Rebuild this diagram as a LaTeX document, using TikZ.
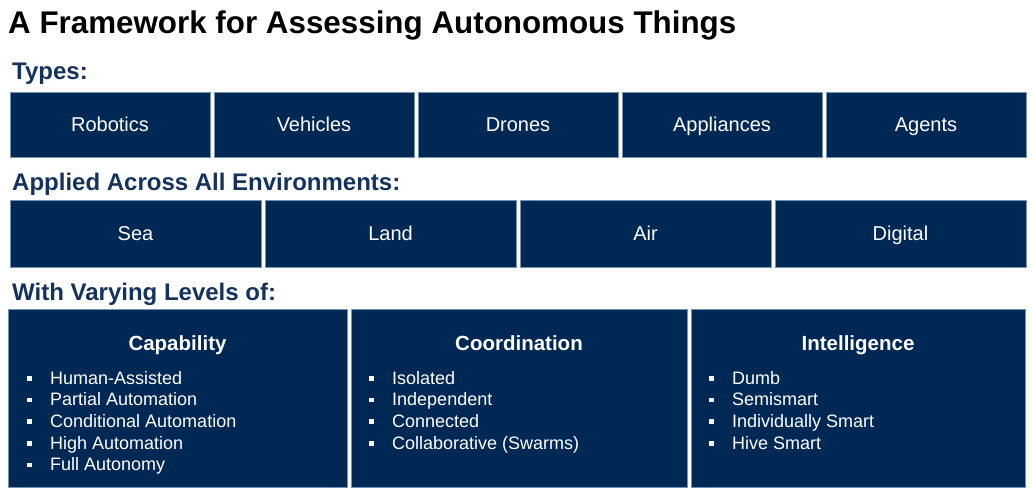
\documentclass[tikz,border=0pt]{standalone}
\usepackage{fontspec}
\setmainfont{Liberation Sans}
\definecolor{navy}{RGB}{0,40,85}
\definecolor{headblue}{RGB}{20,50,92}
\definecolor{edgeblue}{RGB}{120,145,175}
\newcommand{\sqbul}{\rule[3.5pt]{4.5pt}{4.5pt}}
\tikzset{
  box/.style={fill=navy, draw=edgeblue, line width=0.5pt, inner sep=0pt, text=white,
    font=\fontsize{20}{24}\selectfont, text height=14.3pt, text depth=0pt},
  bigbox/.style={fill=navy, draw=edgeblue, line width=0.5pt, inner sep=0pt},
  heading/.style={anchor=base west, inner sep=0pt, text=headblue, font=\fontsize{24}{28}\selectfont\bfseries},
  colhead/.style={anchor=base, inner sep=0pt, text=white, font=\fontsize{20.5}{24}\selectfont\bfseries},
  itemlist/.style={anchor=base west, inner sep=0pt, text=white, font=\fontsize{18}{21.7}\selectfont}
}
\begin{document}
\begin{tikzpicture}[x=1pt,y=-1pt]
\useasboundingbox (0,0) rectangle (1032,496);
% title
\node[anchor=base west, inner sep=0pt, font=\fontsize{31.35}{36}\selectfont\bfseries] (title) at (8,33) {A Framework for Assessing Autonomous Things};
% headings
\node[heading] (types) at (12,79) {Types:};
\node[heading] (env) at (12,190) {Applied Across All Environments:};
\node[heading] (lev) at (12,300) {With Varying Levels of:};
% types row
\node[box, minimum width=200, minimum height=65] (rob) at (110,124.5) {Robotics};
\node[box, minimum width=200, minimum height=65] (veh) at (314,124.5) {Vehicles};
\node[box, minimum width=200, minimum height=65] (dro) at (518,124.5) {Drones};
\node[box, minimum width=200, minimum height=65] (app) at (722,124.5) {Appliances};
\node[box, minimum width=200, minimum height=65] (age) at (926,124.5) {Agents};
% environment row
\node[box, minimum width=251, minimum height=67] (sea) at (135.5,233.5) {Sea};
\node[box, minimum width=251, minimum height=67] (land) at (390.5,233.5) {Land};
\node[box, minimum width=251, minimum height=67] (air) at (645.5,233.5) {Air};
\node[box, minimum width=251, minimum height=67] (dig) at (900.5,233.5) {Digital};
% levels row
\node[bigbox, minimum width=339, minimum height=178] (cap) at (177.5,398) {};
\node[bigbox, minimum width=336, minimum height=178] (coo) at (519,398) {};
\node[bigbox, minimum width=334, minimum height=178] (int) at (858,398) {};
\node[colhead] (caph) at (cap.center |- 0,350) {Capability};
\node[colhead] (cooh) at (coo.center |- 0,350) {Coordination};
\node[colhead] (inth) at (int.center |- 0,350) {Intelligence};
\node[itemlist] (capl) at (27,384) {\begin{tabular}[t]{@{}l@{\hspace{18.5pt}}l@{}}
\sqbul & Human-Assisted\\
\sqbul & Partial Automation\\
\sqbul & Conditional Automation\\
\sqbul & High Automation\\
\sqbul & Full Autonomy
\end{tabular}};
\node[itemlist] (cool) at (369,384) {\begin{tabular}[t]{@{}l@{\hspace{18.5pt}}l@{}}
\sqbul & Isolated\\
\sqbul & Independent\\
\sqbul & Connected\\
\sqbul & Collaborative (Swarms)
\end{tabular}};
\node[itemlist] (intl) at (709,384) {\begin{tabular}[t]{@{}l@{\hspace{18.5pt}}l@{}}
\sqbul & Dumb\\
\sqbul & Semismart\\
\sqbul & Individually Smart\\
\sqbul & Hive Smart
\end{tabular}};
\end{tikzpicture}
\end{document}
